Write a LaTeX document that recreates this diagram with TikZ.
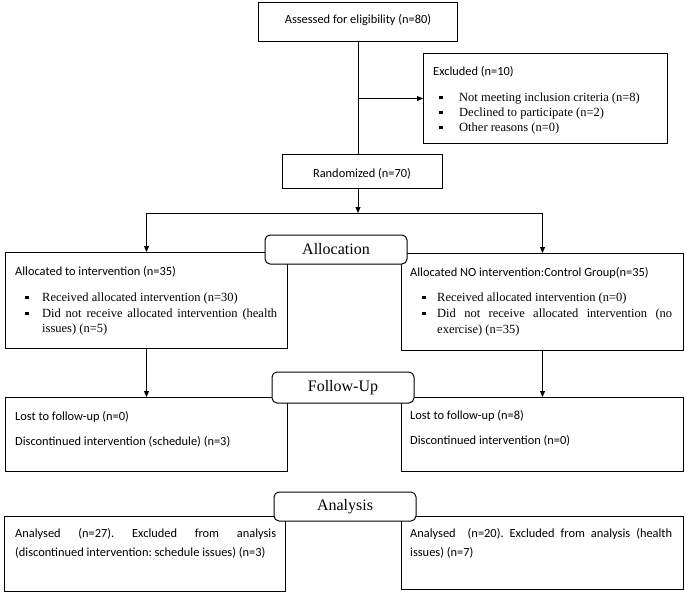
\documentclass[tikz,border=0pt]{standalone}
\usepackage{fontspec}
\setmainfont{Liberation Serif}
\newfontfamily\calib{Carlito}
\usetikzlibrary{arrows.meta}
\frenchspacing
\begin{document}
\begin{tikzpicture}[x=1pt,y=-1pt,
  box/.style={draw, line width=1pt, inner sep=0pt, anchor=north west},
  lab/.style={draw, line width=1pt, rounded corners=5pt, fill=white, inner sep=0pt, anchor=center,
    minimum width=142pt, font=\fontsize{16}{19}\selectfont},
  sans/.style={anchor=base west, inner sep=0pt, font=\calib\fontsize{12.4}{15}\selectfont},
  serif/.style={anchor=base west, inner sep=0pt, font=\fontsize{12.5}{15}\selectfont},
  bul/.style={anchor=base west, inner sep=0pt},
  arr/.style={line width=1pt, -{Triangle[length=6pt,width=5pt]}},
  ln/.style={line width=1pt}]
\useasboundingbox (0,0) rectangle (685,592);
\newcommand\bsq{\rule[1.7pt]{3.6pt}{3.6pt}}

% boxes
\node[box, minimum width=199pt, minimum height=39pt] (assess) at (258,2) {};
\node[box, minimum width=244pt, minimum height=90pt] (excl) at (423,53) {};
\node[box, minimum width=160pt, minimum height=34pt] (rand) at (282,154) {};
\node[box, minimum width=282pt, minimum height=96pt] (alL) at (5,252) {};
\node[box, minimum width=282pt, minimum height=97pt] (alR) at (401,253) {};
\node[box, minimum width=282pt, minimum height=74pt] (fuL) at (5,397) {};
\node[box, minimum width=282pt, minimum height=74pt] (fuR) at (401,397) {};
\node[box, minimum width=281pt, minimum height=75pt] (anL) at (4,516) {};
\node[box, minimum width=282pt, minimum height=73pt] (anR) at (401,516) {};

% connectors
\path (assess.south) ++(0,171) coordinate (split);
\draw[ln] (assess.south) -- (assess.south |- rand.north);
\draw[arr] (assess.south |- excl.west) -- (excl.west);
\draw[arr] (assess.south |- rand.south) -- (split);
\draw[ln] (alL.north |- split) -- (alR.north |- split);
\draw[arr] (alL.north |- split) -- (alL.north);
\draw[arr] (alR.north |- split) -- (alR.north);
\draw[arr] (alL.south) -- (fuL.north);
\draw[arr] (alR.south) -- (fuR.north);

% stage labels
\node[lab, minimum height=29pt] (allocation) at (336,249.5) {Allocation};
\node[lab, minimum height=31pt] (followup) at (343,387.5) {Follow-Up};
\node[lab, minimum height=29pt] (analysis) at (345,506.5) {Analysis};

% texts
\node[sans, anchor=base] (t1) at (358,23.5) {Assessed for eligibility (n=80)};
\node[sans, anchor=base] (t2) at (362,177) {Randomized (n=70)};

\node[sans] (e0) at (433,75) {Excluded (n=10)};
\node[bul] (eb1) at (439,101) {\bsq};
\node[bul] (eb2) at (439,116) {\bsq};
\node[bul] (eb3) at (439,131) {\bsq};
\node[serif] (e1) at (459,101) {Not meeting inclusion criteria (n=8)};
\node[serif] (e2) at (459,116) {Declined to participate (n=2)};
\node[serif] (e3) at (459,131) {Other reasons (n=0)};

\node[sans] (l0) at (15,275) {Allocated to intervention (n=35)};
\node[bul] (lb1) at (25,301) {\bsq};
\node[bul] (lb2) at (25,317) {\bsq};
\node[serif] (l1) at (42,301) {Received allocated intervention (n=30)};
\node[serif] (l2) at (42,317) {\makebox[235pt][s]{Did not receive allocated intervention (health}};
\node[serif] (l3) at (42,332) {issues) (n=5)};

\node[sans] (r0) at (410,276) {Allocated NO intervention:Control Group(n=35)};
\node[bul] (rb1) at (422,301) {\bsq};
\node[bul] (rb2) at (422,317) {\bsq};
\node[serif] (r1) at (437,301) {Received allocated intervention (n=0)};
\node[serif] (r2) at (437,317) {\makebox[235pt][s]{Did not receive allocated intervention (no}};
\node[serif] (r3) at (437,333) {exercise) (n=35)};

\node[sans] (f1) at (15,420) {Lost to follow-up (n=0)};
\node[sans] (f2) at (15,445) {Discontinued intervention (schedule) (n=3)};
\node[sans] (g1) at (410,419) {Lost to follow-up (n=8)};
\node[sans] (g2) at (410,444) {Discontinued intervention (n=0)};

\node[sans] (a1) at (15,537) {\makebox[261pt][s]{Analysed (n=27). Excluded from analysis}};
\node[sans] (a2) at (15,556) {(discontinued intervention: schedule issues) (n=3)};
\node[sans] (b1) at (410,537) {\makebox[262pt][s]{Analysed\ \ (n=20). Excluded from analysis (health}};
\node[sans] (b2) at (410,556) {issues) (n=7)};
\end{tikzpicture}
\end{document}
